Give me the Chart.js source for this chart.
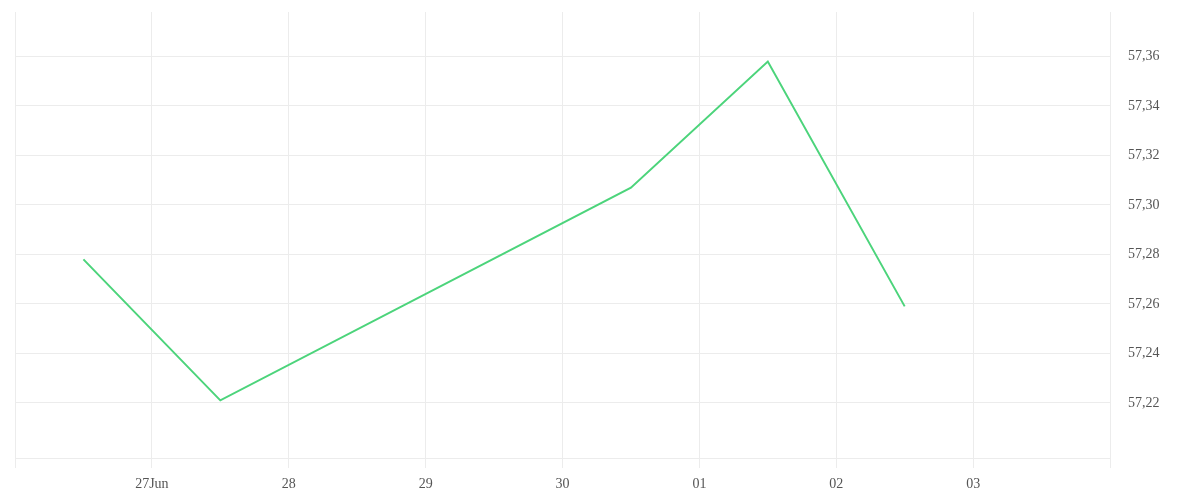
<!DOCTYPE html>
<html>
<head>
<meta charset="utf-8">
<script src="https://cdn.jsdelivr.net/npm/chart.js@4"></script>
<style>
  html, body { margin: 0; padding: 0; background: #fff; }
  #wrap { width: 1200px; height: 500px; }
</style>
</head>
<body>
<div id="wrap"><canvas id="lineChart"></canvas></div>
<script>
// day position (June day number, 01 Jul = 31), points sit at midday
const days = [26.5, 27.5, 30.5, 31.5, 32.5];
const prices = [57.278, 57.221, 57.307, 57.358, 57.259];

const xTickValues = [26, 27, 28, 29, 30, 31, 32, 33, 34];
const xTickLabels = ['', '27Jun', '28', '29', '30', '01', '02', '03', ''];
const yTickValues = [57.22, 57.24, 57.26, 57.28, 57.30, 57.32, 57.34, 57.36];

document.addEventListener('DOMContentLoaded', () => {
  const ctx = document.getElementById('lineChart').getContext('2d');
  const tickFont = {family: '"Liberation Serif", serif', size: 14};
  const gridColor = '#ececec';

  new Chart(ctx, {
    type: 'line',
    data: {
      datasets: [{
        data: days.map((d, i) => ({x: d, y: prices[i]})),
        borderColor: '#4cd47b',
        borderWidth: 2,
        pointRadius: 0,
        tension: 0,
        fill: false,
      }]
    },
    options: {
      responsive: true,
      maintainAspectRatio: false,
      animation: false,
      layout: {padding: {left: 15, top: 12, right: 0, bottom: 0}},
      plugins: {
        legend: {display: false},
        tooltip: {enabled: false}
      },
      scales: {
        x: {
          type: 'linear',
          min: 26,
          max: 34,
          afterBuildTicks: (s) => { s.ticks = xTickValues.map(v => ({value: v})); },
          afterFit: (s) => { s.height = 42; s.paddingLeft = 0; s.paddingRight = 0; },
          grid: {color: gridColor, tickLength: 10, drawTicks: true},
          border: {color: gridColor},
          ticks: {
            font: tickFont,
            color: '#555',
            padding: 8,
            maxRotation: 0,
            autoSkip: false,
            callback: (v) => {
              const i = xTickValues.indexOf(v);
              return i >= 0 ? xTickLabels[i] : '';
            }
          }
        },
        y: {
          position: 'right',
          min: 57.1977,
          max: 57.378,
          afterBuildTicks: (s) => { s.ticks = yTickValues.map(v => ({value: v})); },
          afterFit: (s) => { s.width = 90; s.paddingTop = 0; s.paddingBottom = 0; },
          grid: {color: gridColor, drawTicks: false},
          border: {color: gridColor},
          ticks: {
            font: tickFont,
            color: '#555',
            padding: 18,
            callback: (v) => v.toFixed(2).replace('.', ',')
          }
        }
      }
    }
  });
});
</script>
</body>
</html>
